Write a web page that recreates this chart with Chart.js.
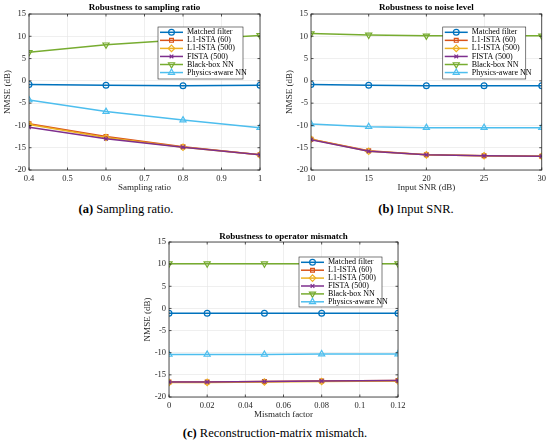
<!DOCTYPE html>
<html>
<head>
<meta charset="utf-8">
<script src="https://cdn.jsdelivr.net/npm/chart.js@4.4.1/dist/chart.umd.min.js"></script>
<style>
  body { margin: 0; background: #fff; }
  #page { position: relative; width: 550px; height: 444px; overflow: hidden; }
  .panel { position: absolute; }
  .caption {
    position: absolute;
    font-family: "Liberation Serif", serif;
    font-size: 12.5px;
    line-height: 14px;
    color: #000;
    white-space: nowrap;
    transform: translateX(-50%);
  }
</style>
</head>
<body>
<div id="page">
  <div class="panel" style="left:0;top:0"><canvas id="chartA" width="275" height="200"></canvas></div>
  <div class="panel" style="left:275px;top:0"><canvas id="chartB" width="275" height="200"></canvas></div>
  <div class="panel" style="left:130px;top:225px"><canvas id="chartC" width="290" height="200"></canvas></div>
  <div class="caption" style="left:126px;top:202px"><b>(a)</b> Sampling ratio.</div>
  <div class="caption" style="left:416px;top:202px"><b>(b)</b> Input SNR.</div>
  <div class="caption" style="left:275px;top:426px"><b>(c)</b> Reconstruction-matrix mismatch.</div>
</div>

<script>
// series shared by the three panels
const seriesNames = ["Matched filter", "L1-ISTA (60)", "L1-ISTA (500)", "FISTA (500)", "Black-box NN", "Physics-aware NN"];
const seriesColors = ["#0072BD", "#D95319", "#EDB120", "#7E2F8E", "#77AC30", "#4DBEEE"];
const seriesMarkers = ["circle", "rect", "rectRot", "crossRot", "triangle", "triangle"];
const markerRotation = [0, 0, 0, 0, 180, 0];
const markerRadius = [2.9, 2.7, 3.2, 2.6, 3.5, 3.5];

const yTicks = [-20, -15, -10, -5, 0, 5, 10, 15];

// (a) sampling ratio
const xSampling = [0.4, 0.6, 0.8, 1];
const xTicksSampling = [0.4, 0.5, 0.6, 0.7, 0.8, 0.9, 1];
const matchedA = [-0.8, -1.0, -1.1, -1.0];
const ista60A = [-9.6, -12.5, -14.8, -16.6];
const ista500A = [-9.8, -12.7, -14.9, -16.6];
const fistaA = [-10.4, -13.0, -14.9, -16.6];
const blackBoxA = [6.4, 8.1, 9.2, 10.2];
const physicsA = [-4.3, -6.9, -8.8, -10.5];

// (b) input SNR
const xSnr = [10, 15, 20, 25, 30];
const xTicksSnr = [10, 15, 20, 25, 30];
const matchedB = [-0.8, -1.0, -1.1, -1.1, -1.1];
const ista60B = [-13.1, -15.7, -16.6, -16.8, -16.9];
const ista500B = [-13.1, -15.8, -16.6, -16.8, -16.9];
const fistaB = [-13.2, -15.8, -16.6, -16.8, -16.9];
const blackBoxB = [10.6, 10.3, 10.1, 10.1, 10.1];
const physicsB = [-9.7, -10.3, -10.5, -10.5, -10.5];

// (c) mismatch factor
const xMismatch = [0, 0.02, 0.05, 0.08, 0.12];
const xTicksMismatch = [0, 0.02, 0.04, 0.06, 0.08, 0.1, 0.12];
const matchedC = [-1.1, -1.1, -1.1, -1.1, -1.1];
const ista60C = [-16.6, -16.6, -16.5, -16.4, -16.3];
const ista500C = [-16.7, -16.7, -16.6, -16.5, -16.4];
const fistaC = [-16.6, -16.6, -16.5, -16.4, -16.3];
const blackBoxC = [10.1, 10.1, 10.1, 10.1, 10.1];
const physicsC = [-10.4, -10.4, -10.4, -10.3, -10.3];

const FONT = "'Liberation Serif', 'Times New Roman', serif";
const AXIS_COLOR = "#262626";

// box round the axes plus small inward ticks, like matlab
const axesFrame = {
  id: "axesFrame",
  afterDraw(chart) {
    const { ctx, chartArea: a, scales } = chart;
    ctx.save();
    ctx.strokeStyle = AXIS_COLOR;
    ctx.lineWidth = 0.8;
    ctx.strokeRect(a.left, a.top, a.right - a.left, a.bottom - a.top);
    ctx.beginPath();
    scales.x.ticks.forEach((t) => {
      const px = scales.x.getPixelForValue(t.value);
      ctx.moveTo(px, a.bottom); ctx.lineTo(px, a.bottom - 2.5);
      ctx.moveTo(px, a.top); ctx.lineTo(px, a.top + 2.5);
    });
    scales.y.ticks.forEach((t) => {
      const py = scales.y.getPixelForValue(t.value);
      ctx.moveTo(a.left, py); ctx.lineTo(a.left + 2.5, py);
      ctx.moveTo(a.right, py); ctx.lineTo(a.right - 2.5, py);
    });
    ctx.stroke();
    ctx.restore();
  },
};

// legend box drawn inside the plot area
const insideLegend = {
  id: "insideLegend",
  afterDatasetsDraw(chart, args, opts) {
    const { ctx, chartArea } = chart;
    const x0 = chartArea.right - opts.right - opts.width;
    const y0 = chartArea.top + opts.top;
    ctx.save();
    ctx.fillStyle = "#fff";
    ctx.fillRect(x0, y0, opts.width, opts.height);
    ctx.strokeStyle = AXIS_COLOR;
    ctx.lineWidth = 0.6;
    ctx.strokeRect(x0, y0, opts.width, opts.height);
    ctx.font = "8px " + FONT;
    ctx.textBaseline = "middle";
    chart.data.datasets.forEach((ds, i) => {
      const y = y0 + 5.3 + i * opts.rowH;
      ctx.strokeStyle = ds.borderColor;
      ctx.lineWidth = ds.borderWidth;
      ctx.beginPath();
      ctx.moveTo(x0 + 2, y);
      ctx.lineTo(x0 + 25, y);
      ctx.stroke();
      ctx.fillStyle = "rgba(0,0,0,0)";
      ctx.lineWidth = ds.pointBorderWidth;
      Chart.helpers.drawPoint(ctx, {
        pointStyle: ds.pointStyle,
        radius: ds.pointRadius,
        rotation: ds.pointRotation,
        borderWidth: ds.pointBorderWidth,
      }, x0 + 13.5, y);
      ctx.fillStyle = "#000";
      ctx.fillText(ds.label, x0 + 29, y);
    });
    ctx.restore();
  },
};

function makeDatasets(xs, seriesList) {
  return seriesList.map((vals, i) => ({
    label: seriesNames[i],
    data: vals.map((v, j) => ({ x: xs[j], y: v })),
    borderColor: seriesColors[i],
    backgroundColor: "rgba(0,0,0,0)",
    borderWidth: 1.5,
    pointStyle: seriesMarkers[i],
    pointRotation: markerRotation[i],
    pointRadius: markerRadius[i],
    pointBorderWidth: 1.2,
    pointBackgroundColor: "rgba(0,0,0,0)",
    tension: 0,
    order: seriesNames.length - i,
  }));
}

function makeChart(id, p) {
  return new Chart(document.getElementById(id), {
    type: "line",
    data: { datasets: makeDatasets(p.xs, p.series) },
    plugins: [axesFrame, insideLegend],
    options: {
      responsive: false,
      animation: false,
      devicePixelRatio: 1,
      layout: { padding: p.padding },
      plugins: {
        legend: { display: false },
        tooltip: { enabled: false },
        title: {
          display: true,
          text: p.title,
          fullSize: false,
          color: "#000",
          font: { family: FONT, size: 9, weight: "bold", lineHeight: 1 },
          padding: p.titlePad,
        },
        insideLegend: p.legend,
      },
      scales: {
        x: {
          type: "linear",
          min: p.xTicks[0],
          max: p.xTicks[p.xTicks.length - 1],
          afterBuildTicks: (s) => { s.ticks = p.xTicks.map((v) => ({ value: v })); },
          afterFit: (s) => { s.height = 24; },
          grid: { color: "#e4e4e4", lineWidth: 0.6, drawTicks: false },
          border: { display: false },
          ticks: {
            padding: 4,
            color: AXIS_COLOR,
            font: { family: FONT, size: 8.5 },
            callback: (v) => String(v),
          },
          title: {
            display: true,
            text: p.xTitle,
            color: AXIS_COLOR,
            font: { family: FONT, size: 9 },
            padding: { top: 0, bottom: 1 },
          },
        },
        y: {
          min: -20,
          max: 15,
          afterBuildTicks: (s) => { s.ticks = yTicks.map((v) => ({ value: v })); },
          afterFit: (s) => { s.width = 29; },
          grid: { color: "#e4e4e4", lineWidth: 0.6, drawTicks: false },
          border: { display: false },
          ticks: {
            padding: 3,
            color: AXIS_COLOR,
            font: { family: FONT, size: 8.5 },
          },
          title: {
            display: true,
            text: "NMSE (dB)",
            color: AXIS_COLOR,
            font: { family: FONT, size: 9 },
            padding: { top: 2, bottom: 2 },
          },
        },
      },
    },
  });
}

makeChart("chartA", {
  xs: xSampling,
  xTicks: xTicksSampling,
  series: [matchedA, ista60A, ista500A, fistaA, blackBoxA, physicsA],
  title: "Robustness to sampling ratio",
  xTitle: "Sampling ratio",
  padding: { left: 0, right: 15, top: 0, bottom: 6 },
  titlePad: { top: 3, bottom: 2 },
  legend: { right: 17, top: 13, width: 85, height: 52, rowH: 8.05 },
});

makeChart("chartB", {
  xs: xSnr,
  xTicks: xTicksSnr,
  series: [matchedB, ista60B, ista500B, fistaB, blackBoxB, physicsB],
  title: "Robustness to noise level",
  xTitle: "Input SNR (dB)",
  padding: { left: 7, right: 8, top: 0, bottom: 6 },
  titlePad: { top: 3, bottom: 2 },
  legend: { right: 16, top: 13, width: 83, height: 52, rowH: 8.05 },
});

makeChart("chartC", {
  xs: xMismatch,
  xTicks: xTicksMismatch,
  series: [matchedC, ista60C, ista500C, fistaC, blackBoxC, physicsC],
  title: "Robustness to operator mismatch",
  xTitle: "Mismatch factor",
  padding: { left: 10, right: 22, top: 0, bottom: 4 },
  titlePad: { top: 7, bottom: 1 },
  legend: { right: 16, top: 15, width: 83, height: 50, rowH: 7.9 },
});
</script>
</body>
</html>
